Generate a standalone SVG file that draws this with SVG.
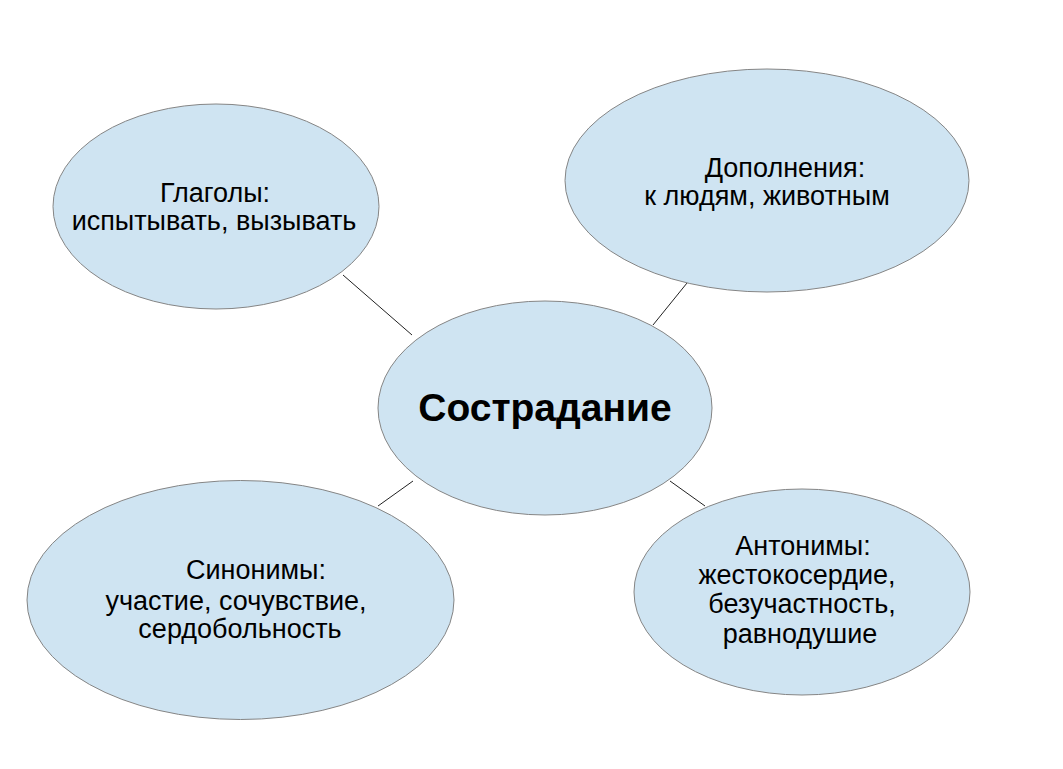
<svg xmlns="http://www.w3.org/2000/svg" width="1063" height="769" viewBox="0 0 1063 769">
<style>
.node ellipse{fill:#cfe4f2;stroke:#858585;stroke-width:1}
.t{font-family:"Liberation Sans",Arial,sans-serif;font-size:27px;fill:#000;text-anchor:middle}
.b{font-family:"Liberation Sans",Arial,sans-serif;font-size:39px;font-weight:bold;fill:#000;text-anchor:middle}
.conn line{stroke:#222;stroke-width:1}
</style>
<rect width="1063" height="769" fill="#fff"/>
<g class="conn">
<line x1="343" y1="275" x2="412" y2="335"/>
<line x1="687" y1="283" x2="653" y2="325"/>
<line x1="413" y1="481" x2="378" y2="506"/>
<line x1="670" y1="481" x2="705" y2="506"/>
</g>
<g id="n-glagoly" class="node">
<ellipse cx="216" cy="206.5" rx="163" ry="102.5"/>
<text class="t" x="215" y="202">Глаголы:</text>
<text class="t" x="214" y="230">испытывать, вызывать</text>
</g>
<g id="n-dopolneniya" class="node">
<ellipse cx="767" cy="180.5" rx="202" ry="111.5"/>
<text class="t" x="785" y="177">Дополнения:</text>
<text class="t" x="767" y="205">к людям, животным</text>
</g>
<g id="n-center" class="node">
<ellipse cx="545" cy="408" rx="167" ry="107"/>
<text class="b" x="545" y="421">Сострадание</text>
</g>
<g id="n-sinonimy" class="node">
<ellipse cx="240.5" cy="600" rx="213.5" ry="119.5"/>
<text class="t" x="256" y="579">Синонимы:</text>
<text class="t" x="236" y="610">участие, сочувствие,</text>
<text class="t" x="240" y="638">сердобольность</text>
</g>
<g id="n-antonimy" class="node">
<ellipse cx="802" cy="592" rx="168" ry="103"/>
<text class="t" x="803" y="555">Антонимы:</text>
<text class="t" x="797" y="584">жестокосердие,</text>
<text class="t" x="802" y="613">безучастность,</text>
<text class="t" x="800" y="643">равнодушие</text>
</g>
</svg>
